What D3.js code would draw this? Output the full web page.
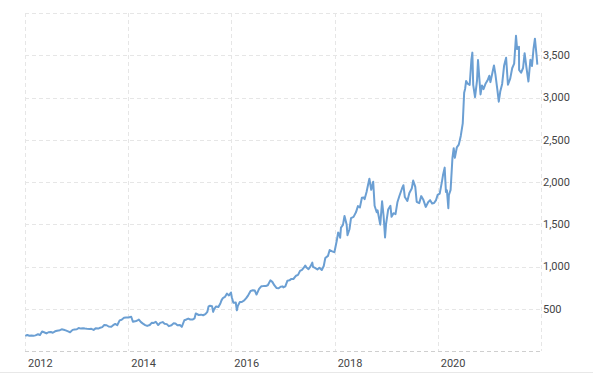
<!DOCTYPE html>
<html>
<head>
<meta charset="utf-8">
<script src="https://cdn.jsdelivr.net/npm/d3@7"></script>
<style>
  body { margin: 0; background: #fff; }
  svg { display: block; }
  text { font-family: Roboto, "Open Sans", Arial, sans-serif; font-size: 11px; fill: #444; }
</style>
</head>
<body>
<svg id="chart" width="593" height="375"></svg>
<script>
// Tick labels
var xTickYears = [2012, 2014, 2016, 2018, 2020];
var yTickValues = [500, 1000, 1500, 2000, 2500, 3000, 3500];
var yGridValues = [0, 500, 1000, 1500, 2000, 2500, 3000, 3500, 4000];

// Price series (dates and closes)
var dates = [
  "2012-01-03","2012-01-17","2012-02-01","2012-02-15","2012-03-01","2012-03-15","2012-04-02","2012-04-16","2012-05-01","2012-05-15","2012-06-01","2012-06-15","2012-07-02","2012-07-16","2012-08-01","2012-08-15","2012-09-04","2012-09-17","2012-10-01","2012-10-15","2012-11-01","2012-11-15","2012-12-03","2012-12-17",
  "2013-01-02","2013-01-15","2013-02-01","2013-02-15","2013-03-01","2013-03-15","2013-04-01","2013-04-15","2013-05-01","2013-05-15","2013-06-03","2013-06-17","2013-07-01","2013-07-15","2013-08-01","2013-08-15","2013-09-03","2013-09-16","2013-10-01","2013-10-15","2013-11-01","2013-11-15","2013-12-02","2013-12-16",
  "2014-01-02","2014-01-22","2014-02-03","2014-02-18","2014-03-03","2014-03-17","2014-04-01","2014-04-15","2014-05-01","2014-05-15","2014-06-02","2014-06-16","2014-07-01","2014-07-15","2014-08-01","2014-08-15","2014-09-02","2014-09-15","2014-10-01","2014-10-15","2014-11-03","2014-11-17","2014-12-01","2014-12-15",
  "2015-01-02","2015-01-15","2015-02-02","2015-02-17","2015-03-02","2015-03-16","2015-04-01","2015-04-15","2015-04-24","2015-05-15","2015-06-01","2015-06-15","2015-07-01","2015-07-15","2015-07-24","2015-08-03","2015-08-17","2015-08-25","2015-09-01","2015-09-15","2015-10-01","2015-10-15","2015-10-23","2015-11-02","2015-11-16","2015-12-01","2015-12-15","2015-12-29",
  "2016-01-04","2016-01-15","2016-02-01","2016-02-09","2016-02-16","2016-03-01","2016-03-15","2016-04-01","2016-04-15","2016-04-29","2016-05-16","2016-06-01","2016-06-15","2016-06-27","2016-07-15","2016-08-01","2016-08-15","2016-09-01","2016-09-15","2016-10-03","2016-10-17","2016-11-01","2016-11-15","2016-12-01","2016-12-15","2016-12-29",
  "2017-01-03","2017-01-17","2017-02-01","2017-02-15","2017-03-01","2017-03-15","2017-04-03","2017-04-17","2017-05-01","2017-05-15","2017-06-01","2017-06-07","2017-06-16","2017-06-30","2017-07-14","2017-07-27","2017-08-01","2017-08-15","2017-09-01","2017-09-15","2017-10-02","2017-10-16","2017-10-27","2017-11-15","2017-11-27","2017-12-15","2017-12-29",
  "2018-01-02","2018-01-16","2018-01-26","2018-02-01","2018-02-09","2018-02-15","2018-03-01","2018-03-12","2018-03-27","2018-04-02","2018-04-16","2018-04-27","2018-05-15","2018-06-01","2018-06-15","2018-06-29","2018-07-13","2018-07-27","2018-08-01","2018-08-15","2018-08-30","2018-09-04","2018-09-17","2018-10-01","2018-10-11","2018-10-26","2018-11-01","2018-11-20","2018-12-03","2018-12-14","2018-12-24","2018-12-31",
  "2019-01-15","2019-01-31","2019-02-08","2019-02-22","2019-03-08","2019-03-22","2019-04-05","2019-04-23","2019-05-03","2019-05-13","2019-05-31","2019-06-14","2019-07-01","2019-07-11","2019-07-26","2019-08-05","2019-08-23","2019-09-06","2019-09-20","2019-10-08","2019-10-25","2019-11-08","2019-11-22","2019-12-06","2019-12-20","2019-12-31",
  "2020-01-15","2020-01-31","2020-02-07","2020-02-19","2020-02-28","2020-03-06","2020-03-16","2020-03-20","2020-04-01","2020-04-14","2020-04-23","2020-05-01","2020-05-15","2020-05-29","2020-06-12","2020-06-26","2020-07-06","2020-07-13","2020-07-20","2020-07-31","2020-08-14","2020-08-26","2020-09-02","2020-09-08","2020-09-21","2020-10-05","2020-10-12","2020-10-30","2020-11-09","2020-11-20","2020-12-04","2020-12-18","2020-12-31",
  "2021-01-08","2021-01-22","2021-02-02","2021-02-12","2021-02-26","2021-03-08","2021-03-19","2021-04-01","2021-04-15","2021-04-29","2021-05-12","2021-05-28","2021-06-11","2021-06-25","2021-07-08","2021-07-16","2021-07-29","2021-07-30","2021-08-13","2021-08-27","2021-09-07","2021-09-20","2021-10-04","2021-10-18","2021-10-29","2021-11-09","2021-11-19","2021-11-30","2021-12-06"
];
var closes = [
  179,189,180,182,180,185,198,189,230,222,208,222,225,216,233,240,246,257,252,244,232,222,250,255,
  257,272,265,269,265,262,261,263,250,268,265,276,283,307,305,290,288,305,320,305,362,370,393,396,
  397,405,346,351,358,372,342,324,307,297,308,333,332,346,307,333,342,323,318,294,305,327,326,306,
  308,286,364,373,384,373,372,386,445,426,430,423,437,464,529,536,531,463,496,527,520,562,599,627,640,679,658,693,
  636,570,574,482,534,579,580,598,625,659,710,719,715,668,735,767,768,770,778,836,818,776,746,743,760,765,
  753,766,832,836,853,852,891,901,948,960,995,1011,987,968,1001,1046,996,983,965,986,959,1006,1100,1126,1195,1180,1169,
  1189,1304,1402,1390,1339,1461,1493,1598,1497,1371,1441,1572,1587,1641,1715,1700,1813,1817,1797,1882,2002,2039,1908,2004,1719,1642,1665,1495,1772,1592,1344,1502,
  1674,1718,1588,1631,1620,1764,1837,1923,1962,1822,1775,1870,1922,2017,1943,1766,1750,1833,1794,1705,1761,1785,1745,1751,1786,1847,
  1862,2008,2079,2170,1883,1901,1690,1846,1907,2283,2400,2286,2409,2442,2545,2693,3057,3104,3196,3164,3148,3441,3531,3149,3005,3199,3443,3036,3143,3099,3162,3201,3257,
  3182,3292,3380,3277,3092,2951,3075,3161,3379,3471,3151,3223,3346,3401,3731,3573,3599,3327,3293,3349,3525,3355,3189,3447,3372,3576,3696,3507,3389
];

(function() {
  var parseDate = d3.timeParse("%Y-%m-%d");
  var series = dates.map(function(d, i) { return { date: parseDate(d), close: closes[i] }; });

  var svg = d3.select("#chart");
  var plotLeft = 25, plotRight = 541, plotTop = 13, plotBottom = 351;

  var x = d3.scaleTime()
    .domain([new Date(2012, 0, 1), new Date(2022, 0, 1)])
    .range([plotLeft, plotRight]);
  var y = d3.scaleLinear()
    .domain([0, 4000])
    .range([plotBottom, plotTop]);

  // bottom separator line
  svg.append("line")
    .attr("x1", 0).attr("x2", 593)
    .attr("y1", 372.5).attr("y2", 372.5)
    .attr("stroke", "#e8e8e8").attr("stroke-width", 1);

  // horizontal grid
  svg.append("g").selectAll("line")
    .data(yGridValues)
    .enter().append("line")
      .attr("x1", plotLeft).attr("x2", plotRight)
      .attr("y1", function(d) { return Math.round(y(d)) + 0.5; })
      .attr("y2", function(d) { return Math.round(y(d)) + 0.5; })
      .attr("stroke", function(d) { return d == 0 ? "#cfcfcf" : "#e6e6e6"; })
      .attr("stroke-dasharray", "4,3");

  // vertical grid, one per two years plus the right edge
  var xGridDates = xTickYears.map(function(yr) { return new Date(yr, 0, 1); }).concat([new Date(2022, 0, 1)]);
  svg.append("g").selectAll("line")
    .data(xGridDates)
    .enter().append("line")
      .attr("x1", function(d) { return Math.round(x(d)) + 0.5; })
      .attr("x2", function(d) { return Math.round(x(d)) + 0.5; })
      .attr("y1", plotTop).attr("y2", plotBottom)
      .attr("stroke", "#e6e6e6")
      .attr("stroke-dasharray", "4,3");

  // price line
  var line = d3.line()
    .x(function(d) { return x(d.date); })
    .y(function(d) { return y(d.close); });

  svg.append("path")
    .datum(series)
    .attr("fill", "none")
    .attr("stroke", "#6b9fd3")
    .attr("stroke-width", 2)
    .attr("stroke-linejoin", "round")
    .attr("d", line);

  // y labels on the right
  svg.append("g").selectAll("text")
    .data(yTickValues)
    .enter().append("text")
      .attr("x", plotRight + 2)
      .attr("y", function(d) { return y(d); })
      .attr("dy", "0.35em")
      .text(function(d) { return d3.format(",")(d); });

  // x labels, to the right of their gridline
  svg.append("g").selectAll("text")
    .data(xTickYears)
    .enter().append("text")
      .attr("x", function(d) { return x(new Date(d, 0, 1)) + 3; })
      .attr("y", 367)
      .text(function(d) { return d; });
})();
</script>
</body>
</html>
